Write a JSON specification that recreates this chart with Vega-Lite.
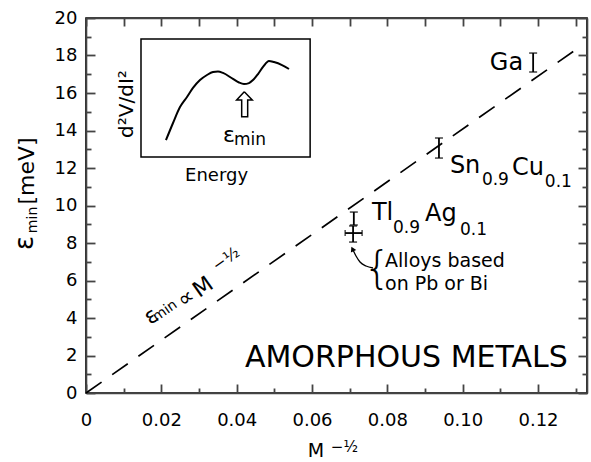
{
  "$schema": "https://vega.github.io/schema/vega-lite/v6.json",
  "width": 501,
  "height": 375,
  "autosize": "none",
  "padding": {"left": 86, "top": 18, "right": 4, "bottom": 69},
  "background": "white",
  "config": {
    "view": {"stroke": "black", "strokeWidth": 1.6},
    "font": "DejaVu Sans"
  },
  "datasets": {
    "fit": [{"x": 0, "y": 0}, {"x": 0.1303, "y": 18.35}],
    "points": [
      {"name": "Ga", "x": 0.1187, "ylo": 17.12, "yhi": 18.13},
      {"name": "Sn0.9Cu0.1", "x": 0.0937, "ylo": 12.53, "yhi": 13.6},
      {"name": "Tl0.9Ag0.1", "x": 0.0711, "ylo": 8.96, "yhi": 9.65},
      {"name": "Pb/Bi alloys", "x": 0.0709, "ylo": 8.05, "yhi": 8.91}
    ],
    "cross": [{"name": "Pb/Bi alloys", "xlo": 0.0688, "xhi": 0.0733, "y": 8.53}],
    "inset": [{"x1": 0.0146, "x2": 0.0595, "y1": 12.59, "y2": 18.88}],
    "curve": [
      {"x": 0.02124, "y": 13.49}, {"x": 0.0231, "y": 14.4}, {"x": 0.02495, "y": 15.25},
      {"x": 0.02681, "y": 15.79}, {"x": 0.0284, "y": 16.27}, {"x": 0.03026, "y": 16.69},
      {"x": 0.03212, "y": 16.96}, {"x": 0.03371, "y": 17.12}, {"x": 0.03504, "y": 17.15},
      {"x": 0.03637, "y": 17.07}, {"x": 0.03902, "y": 16.75}, {"x": 0.04062, "y": 16.56},
      {"x": 0.04194, "y": 16.48}, {"x": 0.04327, "y": 16.53}, {"x": 0.04433, "y": 16.69},
      {"x": 0.04566, "y": 17.01}, {"x": 0.04699, "y": 17.39}, {"x": 0.04858, "y": 17.71},
      {"x": 0.04991, "y": 17.65}, {"x": 0.05203, "y": 17.49}, {"x": 0.05389, "y": 17.28}
    ],
    "arrow": [
      {"o": 0, "x": 0.04202, "y": 16.07}, {"o": 1, "x": 0.04414, "y": 15.63},
      {"o": 2, "x": 0.04292, "y": 15.63}, {"o": 3, "x": 0.04292, "y": 14.74},
      {"o": 4, "x": 0.04133, "y": 14.74}, {"o": 5, "x": 0.04133, "y": 15.63},
      {"o": 6, "x": 0.03999, "y": 15.63}, {"o": 7, "x": 0.04202, "y": 16.07}
    ],
    "pointer": [
      {"o": 0, "x": 0.07619, "y": 6.667}, {"o": 1, "x": 0.07433, "y": 6.773},
      {"o": 2, "x": 0.07274, "y": 6.987}, {"o": 3, "x": 0.07168, "y": 7.307},
      {"o": 4, "x": 0.07095, "y": 7.6}
    ],
    "head": [{"x": 0.07074, "y": 7.68}],
    "texts": [
      {"role": "label", "text": "Ga", "x": 0.1072, "y": 17.23},
      {"role": "label", "text": "Sn", "x": 0.0966, "y": 11.73},
      {"role": "label", "text": "Cu", "x": 0.1131, "y": 11.63},
      {"role": "label", "text": "Tl", "x": 0.0759, "y": 9.23},
      {"role": "label", "text": "Ag", "x": 0.09, "y": 9.17},
      {"role": "sub", "text": "0.9", "x": 0.1051, "y": 11.09},
      {"role": "sub", "text": "0.1", "x": 0.1218, "y": 10.99},
      {"role": "sub", "text": "0.9", "x": 0.0815, "y": 8.53},
      {"role": "sub", "text": "0.1", "x": 0.0993, "y": 8.43},
      {"role": "sub", "text": "min", "x": 0.0393, "y": 13.23},
      {"role": "note", "text": "Alloys based", "x": 0.0794, "y": 6.72},
      {"role": "note", "text": "on Pb or Bi", "x": 0.0794, "y": 5.49},
      {"role": "brace", "text": "{", "x": 0.0773, "y": 6.56},
      {"role": "big", "text": "AMORPHOUS METALS", "x": 0.0422, "y": 1.387},
      {"role": "insetEps", "text": "ε", "x": 0.0364, "y": 13.39},
      {"role": "energy", "text": "Energy", "x": 0.0263, "y": 11.31},
      {"role": "insetY", "text": "d²V/dI²", "x": 0.01248, "y": 15.41},
      {"role": "xM", "text": "M", "x": 0.0589, "y": -3.413},
      {"role": "xSup", "text": "−½", "x": 0.065, "y": -3.147},
      {"role": "yEps", "text": "ε", "x": -0.01407, "y": 8.0},
      {"role": "ySub", "text": "min", "x": -0.013, "y": 9.23},
      {"role": "yUnit", "text": "[meV]", "x": -0.0138, "y": 11.84},
      {"role": "lineEps", "text": "ε", "x": 0.01726, "y": 4.107},
      {"role": "lineSub", "text": "min", "x": 0.02097, "y": 4.373},
      {"role": "lineProp", "text": "∝", "x": 0.02655, "y": 5.067},
      {"role": "lineM", "text": "M", "x": 0.03106, "y": 5.653},
      {"role": "lineSup", "text": "−½", "x": 0.03717, "y": 7.147}
    ]
  },
  "resolve": {"axis": {"x": "independent", "y": "independent"}},
  "layer": [
    {
      "data": {"name": "fit"},
      "mark": {"type": "line", "color": "black", "strokeWidth": 1.7, "strokeDash": [19, 13]},
      "encoding": {
        "x": {"field": "x", "type": "quantitative",
          "scale": {"domain": [0, 0.133], "nice": false, "zero": false},
          "axis": {"orient": "bottom", "title": null, "grid": false, "domainColor": "#444444", "domainWidth": 1.6,
            "values": [0, 0.01, 0.02, 0.03, 0.04, 0.05, 0.06, 0.07, 0.08, 0.09, 0.1, 0.11, 0.12, 0.13],
            "labelExpr": "round(datum.value*100)%2===0 ? (datum.value===0 ? '0' : format(datum.value,'.2f')) : ''",
            "tickSize": {"condition": {"test": "round(datum.value*100)%2===0", "value": -9}, "value": -5},
            "tickColor": "#444444", "tickWidth": 1.8,
            "labelFont": "DejaVu Sans", "labelFontSize": 18, "labelColor": "black",
            "labelPadding": 27, "labelFlush": false, "labelOverlap": false}},
        "y": {"field": "y", "type": "quantitative",
          "scale": {"domain": [0, 20], "nice": false, "zero": false},
          "axis": {"orient": "left", "title": null, "grid": false, "domainColor": "#444444", "domainWidth": 1.6,
            "values": [0,1,2,3,4,5,6,7,8,9,10,11,12,13,14,15,16,17,18,19,20],
            "labelExpr": "datum.value%2===0 ? format(datum.value,'d') : ''",
            "tickSize": {"condition": {"test": "datum.value%2===0", "value": -9}, "value": -5},
            "tickColor": "#444444", "tickWidth": 1.8,
            "labelFont": "DejaVu Sans", "labelFontSize": 18, "labelColor": "black",
            "labelPadding": 18, "labelFlush": false, "labelOverlap": false}}
      }
    },
    {
      "data": {"name": "points"},
      "mark": {"type": "rule", "color": "black", "strokeWidth": 1.8},
      "encoding": {
        "x": {"field": "x", "type": "quantitative",
          "axis": {"orient": "top", "title": null, "grid": false, "labels": false, "domainColor": "#444444", "domainWidth": 1.6,
            "values": [0, 0.01, 0.02, 0.03, 0.04, 0.05, 0.06, 0.07, 0.08, 0.09, 0.1, 0.11, 0.12, 0.13],
            "tickSize": -8, "tickColor": "#444444", "tickWidth": 1.8}},
        "y": {"field": "ylo", "type": "quantitative",
          "axis": {"orient": "right", "title": null, "grid": false, "labels": false, "domainColor": "#444444", "domainWidth": 1.6,
            "values": [0,1,2,3,4,5,6,7,8,9,10,11,12,13,14,15,16,17,18,19,20],
            "tickSize": {"condition": {"test": "datum.value%2===0", "value": -9}, "value": -5},
            "tickColor": "#444444", "tickWidth": 1.8}},
        "y2": {"field": "yhi"}
      }
    },
    {
      "data": {"name": "points"},
      "mark": {"type": "tick", "orient": "horizontal", "size": 8, "thickness": 1.6, "color": "black"},
      "encoding": {
        "x": {"field": "x", "type": "quantitative", "axis": null},
        "y": {"field": "ylo", "type": "quantitative", "axis": null}
      }
    },
    {
      "data": {"name": "points"},
      "mark": {"type": "tick", "orient": "horizontal", "size": 8, "thickness": 1.6, "color": "black"},
      "encoding": {
        "x": {"field": "x", "type": "quantitative", "axis": null},
        "y": {"field": "yhi", "type": "quantitative", "axis": null}
      }
    },
    {
      "data": {"name": "cross"},
      "mark": {"type": "rule", "color": "black", "strokeWidth": 1.8},
      "encoding": {
        "x": {"field": "xlo", "type": "quantitative", "axis": null},
        "x2": {"field": "xhi"},
        "y": {"field": "y", "type": "quantitative", "axis": null}
      }
    },
    {
      "data": {"name": "cross"},
      "mark": {"type": "tick", "orient": "vertical", "size": 6, "thickness": 1.5, "color": "black"},
      "encoding": {
        "x": {"field": "xlo", "type": "quantitative", "axis": null},
        "y": {"field": "y", "type": "quantitative", "axis": null}
      }
    },
    {
      "data": {"name": "cross"},
      "mark": {"type": "tick", "orient": "vertical", "size": 6, "thickness": 1.5, "color": "black"},
      "encoding": {
        "x": {"field": "xhi", "type": "quantitative", "axis": null},
        "y": {"field": "y", "type": "quantitative", "axis": null}
      }
    },
    {
      "data": {"name": "inset"},
      "mark": {"type": "rect", "fill": "white", "stroke": "black", "strokeWidth": 1.5},
      "encoding": {
        "x": {"field": "x1", "type": "quantitative", "axis": null},
        "x2": {"field": "x2"},
        "y": {"field": "y1", "type": "quantitative", "axis": null},
        "y2": {"field": "y2"}
      }
    },
    {
      "data": {"name": "curve"},
      "mark": {"type": "line", "color": "black", "strokeWidth": 2, "interpolate": "monotone"},
      "encoding": {
        "x": {"field": "x", "type": "quantitative", "axis": null},
        "y": {"field": "y", "type": "quantitative", "axis": null}
      }
    },
    {
      "data": {"name": "arrow"},
      "mark": {"type": "line", "color": "black", "strokeWidth": 1.5},
      "encoding": {
        "x": {"field": "x", "type": "quantitative", "axis": null},
        "y": {"field": "y", "type": "quantitative", "axis": null},
        "order": {"field": "o", "type": "quantitative"}
      }
    },
    {
      "data": {"name": "pointer"},
      "mark": {"type": "line", "color": "black", "strokeWidth": 1.3, "interpolate": "monotone"},
      "encoding": {
        "x": {"field": "x", "type": "quantitative", "axis": null},
        "y": {"field": "y", "type": "quantitative", "axis": null},
        "order": {"field": "o", "type": "quantitative"}
      }
    },
    {
      "data": {"name": "head"},
      "mark": {"type": "point", "shape": "triangle-up", "filled": true, "size": 35, "color": "black", "opacity": 1, "angle": -25},
      "encoding": {
        "x": {"field": "x", "type": "quantitative", "axis": null},
        "y": {"field": "y", "type": "quantitative", "axis": null}
      }
    },
    {
      "data": {"name": "texts"},
      "transform": [{"filter": "datum.role==='label'"}],
      "mark": {"type": "text", "fontSize": 24, "align": "left", "baseline": "alphabetic", "color": "black"},
      "encoding": {
        "x": {"field": "x", "type": "quantitative", "axis": null},
        "y": {"field": "y", "type": "quantitative", "axis": null},
        "text": {"field": "text"}
      }
    },
    {
      "data": {"name": "texts"},
      "transform": [{"filter": "datum.role==='sub'"}],
      "mark": {"type": "text", "fontSize": 17, "align": "left", "baseline": "alphabetic", "color": "black"},
      "encoding": {
        "x": {"field": "x", "type": "quantitative", "axis": null},
        "y": {"field": "y", "type": "quantitative", "axis": null},
        "text": {"field": "text"}
      }
    },
    {
      "data": {"name": "texts"},
      "transform": [{"filter": "datum.role==='note'"}],
      "mark": {"type": "text", "fontSize": 19, "align": "left", "baseline": "alphabetic", "color": "black"},
      "encoding": {
        "x": {"field": "x", "type": "quantitative", "axis": null},
        "y": {"field": "y", "type": "quantitative", "axis": null},
        "text": {"field": "text"}
      }
    },
    {
      "data": {"name": "texts"},
      "transform": [{"filter": "datum.role==='brace'"}],
      "mark": {"type": "text", "fontSize": 44, "fontWeight": 200, "align": "center", "baseline": "middle", "color": "black"},
      "encoding": {
        "x": {"field": "x", "type": "quantitative", "axis": null},
        "y": {"field": "y", "type": "quantitative", "axis": null},
        "text": {"field": "text"}
      }
    },
    {
      "data": {"name": "texts"},
      "transform": [{"filter": "datum.role==='big'"}],
      "mark": {"type": "text", "fontSize": 30, "align": "left", "baseline": "alphabetic", "color": "black"},
      "encoding": {
        "x": {"field": "x", "type": "quantitative", "axis": null},
        "y": {"field": "y", "type": "quantitative", "axis": null},
        "text": {"field": "text"}
      }
    },
    {
      "data": {"name": "texts"},
      "transform": [{"filter": "datum.role==='insetEps'"}],
      "mark": {"type": "text", "fontSize": 22, "align": "left", "baseline": "alphabetic", "color": "black"},
      "encoding": {
        "x": {"field": "x", "type": "quantitative", "axis": null},
        "y": {"field": "y", "type": "quantitative", "axis": null},
        "text": {"field": "text"}
      }
    },
    {
      "data": {"name": "texts"},
      "transform": [{"filter": "datum.role==='energy'"}],
      "mark": {"type": "text", "fontSize": 18, "align": "left", "baseline": "alphabetic", "color": "black"},
      "encoding": {
        "x": {"field": "x", "type": "quantitative", "axis": null},
        "y": {"field": "y", "type": "quantitative", "axis": null},
        "text": {"field": "text"}
      }
    },
    {
      "data": {"name": "texts"},
      "transform": [{"filter": "datum.role==='insetY'"}],
      "mark": {"type": "text", "fontSize": 20, "angle": -90, "align": "center", "baseline": "alphabetic", "color": "black"},
      "encoding": {
        "x": {"field": "x", "type": "quantitative", "axis": null},
        "y": {"field": "y", "type": "quantitative", "axis": null},
        "text": {"field": "text"}
      }
    },
    {
      "data": {"name": "texts"},
      "transform": [{"filter": "datum.role==='xM'"}],
      "mark": {"type": "text", "fontSize": 19, "align": "left", "baseline": "alphabetic", "color": "black"},
      "encoding": {
        "x": {"field": "x", "type": "quantitative", "axis": null},
        "y": {"field": "y", "type": "quantitative", "axis": null},
        "text": {"field": "text"}
      }
    },
    {
      "data": {"name": "texts"},
      "transform": [{"filter": "datum.role==='xSup'"}],
      "mark": {"type": "text", "fontSize": 15, "align": "left", "baseline": "alphabetic", "color": "black"},
      "encoding": {
        "x": {"field": "x", "type": "quantitative", "axis": null},
        "y": {"field": "y", "type": "quantitative", "axis": null},
        "text": {"field": "text"}
      }
    },
    {
      "data": {"name": "texts"},
      "transform": [{"filter": "datum.role==='yEps'"}],
      "mark": {"type": "text", "fontSize": 26, "angle": -90, "align": "center", "baseline": "alphabetic", "color": "black"},
      "encoding": {
        "x": {"field": "x", "type": "quantitative", "axis": null},
        "y": {"field": "y", "type": "quantitative", "axis": null},
        "text": {"field": "text"}
      }
    },
    {
      "data": {"name": "texts"},
      "transform": [{"filter": "datum.role==='ySub'"}],
      "mark": {"type": "text", "fontSize": 14, "angle": -90, "align": "center", "baseline": "alphabetic", "color": "black"},
      "encoding": {
        "x": {"field": "x", "type": "quantitative", "axis": null},
        "y": {"field": "y", "type": "quantitative", "axis": null},
        "text": {"field": "text"}
      }
    },
    {
      "data": {"name": "texts"},
      "transform": [{"filter": "datum.role==='yUnit'"}],
      "mark": {"type": "text", "fontSize": 22, "angle": -90, "align": "center", "baseline": "alphabetic", "color": "black"},
      "encoding": {
        "x": {"field": "x", "type": "quantitative", "axis": null},
        "y": {"field": "y", "type": "quantitative", "axis": null},
        "text": {"field": "text"}
      }
    },
    {
      "data": {"name": "texts"},
      "transform": [{"filter": "datum.role==='lineEps'"}],
      "mark": {"type": "text", "fontSize": 22, "angle": -35, "align": "center", "baseline": "middle", "color": "black"},
      "encoding": {
        "x": {"field": "x", "type": "quantitative", "axis": null},
        "y": {"field": "y", "type": "quantitative", "axis": null},
        "text": {"field": "text"}
      }
    },
    {
      "data": {"name": "texts"},
      "transform": [{"filter": "datum.role==='lineSub'"}],
      "mark": {"type": "text", "fontSize": 14, "angle": -35, "align": "center", "baseline": "middle", "color": "black"},
      "encoding": {
        "x": {"field": "x", "type": "quantitative", "axis": null},
        "y": {"field": "y", "type": "quantitative", "axis": null},
        "text": {"field": "text"}
      }
    },
    {
      "data": {"name": "texts"},
      "transform": [{"filter": "datum.role==='lineProp'"}],
      "mark": {"type": "text", "fontSize": 22, "angle": -35, "align": "center", "baseline": "middle", "color": "black"},
      "encoding": {
        "x": {"field": "x", "type": "quantitative", "axis": null},
        "y": {"field": "y", "type": "quantitative", "axis": null},
        "text": {"field": "text"}
      }
    },
    {
      "data": {"name": "texts"},
      "transform": [{"filter": "datum.role==='lineM'"}],
      "mark": {"type": "text", "fontSize": 22, "angle": -35, "align": "center", "baseline": "middle", "color": "black"},
      "encoding": {
        "x": {"field": "x", "type": "quantitative", "axis": null},
        "y": {"field": "y", "type": "quantitative", "axis": null},
        "text": {"field": "text"}
      }
    },
    {
      "data": {"name": "texts"},
      "transform": [{"filter": "datum.role==='lineSup'"}],
      "mark": {"type": "text", "fontSize": 16, "angle": -35, "align": "center", "baseline": "middle", "color": "black"},
      "encoding": {
        "x": {"field": "x", "type": "quantitative", "axis": null},
        "y": {"field": "y", "type": "quantitative", "axis": null},
        "text": {"field": "text"}
      }
    }
  ]
}
